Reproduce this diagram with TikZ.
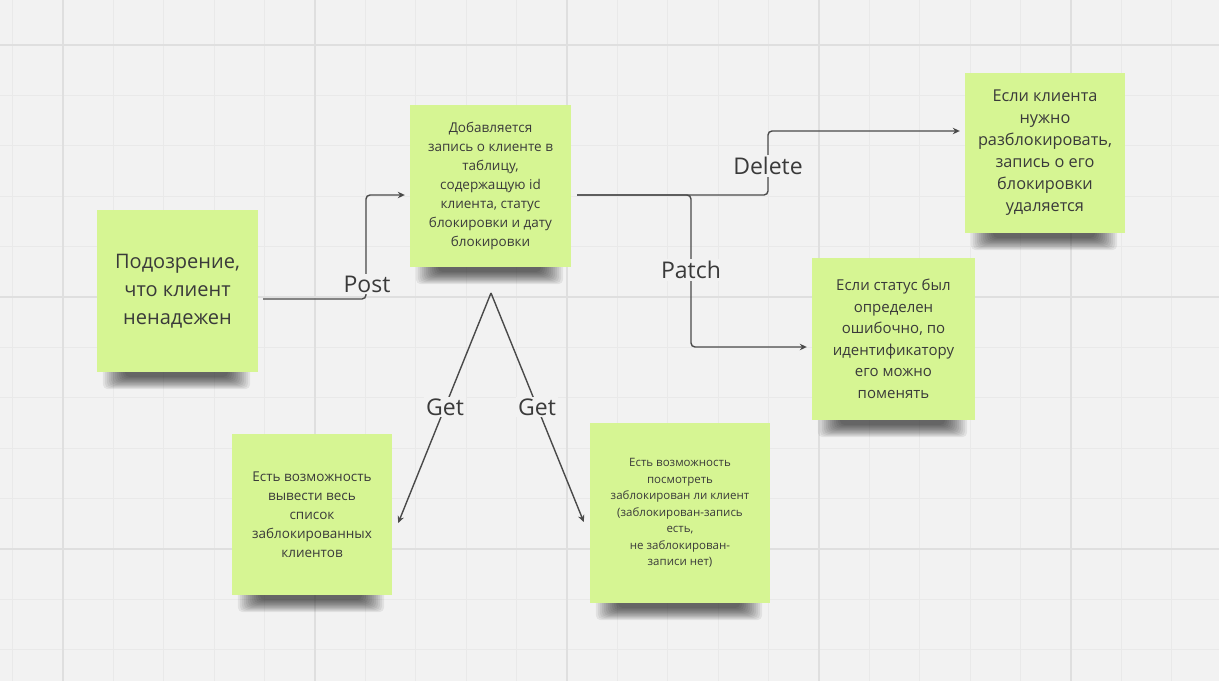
\documentclass[tikz,border=0pt]{standalone}
\usepackage{fontspec}
\setmainfont{Open Sans}
\usetikzlibrary{arrows.meta,calc,backgrounds}
\definecolor{bgc}{HTML}{F2F2F2}
\definecolor{gridminor}{HTML}{E9E9E9}
\definecolor{gridmajor}{HTML}{DFDFDF}
\definecolor{notec}{HTML}{D6F593}
\definecolor{ink}{HTML}{3A3A3A}
\definecolor{linec}{HTML}{4A4A4A}
\newcommand{\nshadow}[1]{\foreach \i in {0,...,11}{\fill[black,opacity=0.065,rounded corners=5pt] ($(#1.south west)+({6+\i*2},-8)$) rectangle ($(#1.south east)+({-8-\i*2},{17-\i*1.1})$);}}
\begin{document}
\begin{tikzpicture}[x=1pt,y=-1pt,
  note/.style={fill=notec, draw=none, inner sep=0pt, align=center, text=ink},
  conn/.style={draw=linec, line width=1.4pt, rounded corners=4pt, -{Stealth[length=7pt,width=6.5pt]}},
  lbl/.style={fill=bgc, inner sep=2pt, text=ink, font=\fontsize{23}{28}\selectfont}]
\useasboundingbox (0,0) rectangle (1219,681);

\node[note, minimum width=161pt, minimum height=162pt, font=\fontsize{20}{28}\selectfont] (n1) at (177.5,291) {Подозрение,\\что клиент\\ненадежен};
\node[note, minimum width=161pt, minimum height=162pt, font=\fontsize{13.5}{19}\selectfont] (n2) at (490.5,186) {Добавляется\\запись о клиенте в\\таблицу,\\содержащую id\\клиента, статус\\блокировки и дату\\блокировки};
\node[note, minimum width=160pt, minimum height=160pt, font=\fontsize{16.3}{22}\selectfont] (n3) at (1045,153) {Если клиента\\нужно\\разблокировать,\\запись о его\\блокировки\\удаляется};
\node[note, minimum width=163pt, minimum height=162pt, font=\fontsize{15}{21.5}\selectfont] (n4) at (893.5,339) {Если статус был\\определен\\ошибочно, по\\идентификатору\\его можно\\поменять};
\node[note, minimum width=160pt, minimum height=161pt, font=\fontsize{13.5}{19}\selectfont] (n5) at (312,514.5) {Есть возможность\\вывести весь\\список\\заблокированных\\клиентов};
\node[note, minimum width=180pt, minimum height=180pt, font=\fontsize{11.5}{16.5}\selectfont] (n6) at (680,513) {Есть возможность\\посмотреть\\заблокирован ли клиент\\(заблокирован-запись\\есть,\\не заблокирован-\\записи нет)};

\coordinate (apex) at (491,293);

\draw[conn] ([shift={(5,8)}]n1.east) -- (366,299) |- ([shift={(-5,9)}]n2.west);
\draw[conn] ([shift={(6,9)}]n2.east) -- (768,195) |- ([shift={(-5,-22)}]n3.west);
\draw[conn] ([shift={(6,9)}]n2.east) -- (691,195) |- ([shift={(-5,8)}]n4.west);
\draw[conn] (apex) -- ([shift={(6,8.5)}]n5.east);
\draw[conn] (apex) -- ([shift={(-6,9)}]n6.west);

\node[lbl] (lpost) at (367,284) {Post};
\node[lbl] (ldel) at (768,166) {Delete};
\node[lbl] (lpatch) at (691,270) {Patch};
\node[lbl] (lget1) at (445,407) {Get};
\node[lbl] (lget2) at (537,407) {Get};

\begin{scope}[on background layer]
\fill[bgc] (0,0) rectangle (1219,681);
\foreach \k in {0,...,24} \draw[gridminor, line width=0.9pt] ({12.6+50.4*\k},0) -- ++(0,681);
\foreach \k in {0,...,12} \draw[gridminor, line width=0.9pt] (0,{45+50.4*\k}) -- ++(1219,0);
\foreach \k in {0,...,4} \draw[gridmajor, line width=1.2pt] ({63+252*\k},0) -- ++(0,681);
\foreach \k in {0,1,2} \draw[gridmajor, line width=1.2pt] (0,{45+252*\k}) -- ++(1219,0);
\nshadow{n1}\nshadow{n2}\nshadow{n3}\nshadow{n4}\nshadow{n5}\nshadow{n6}
\end{scope}
\end{tikzpicture}
\end{document}
